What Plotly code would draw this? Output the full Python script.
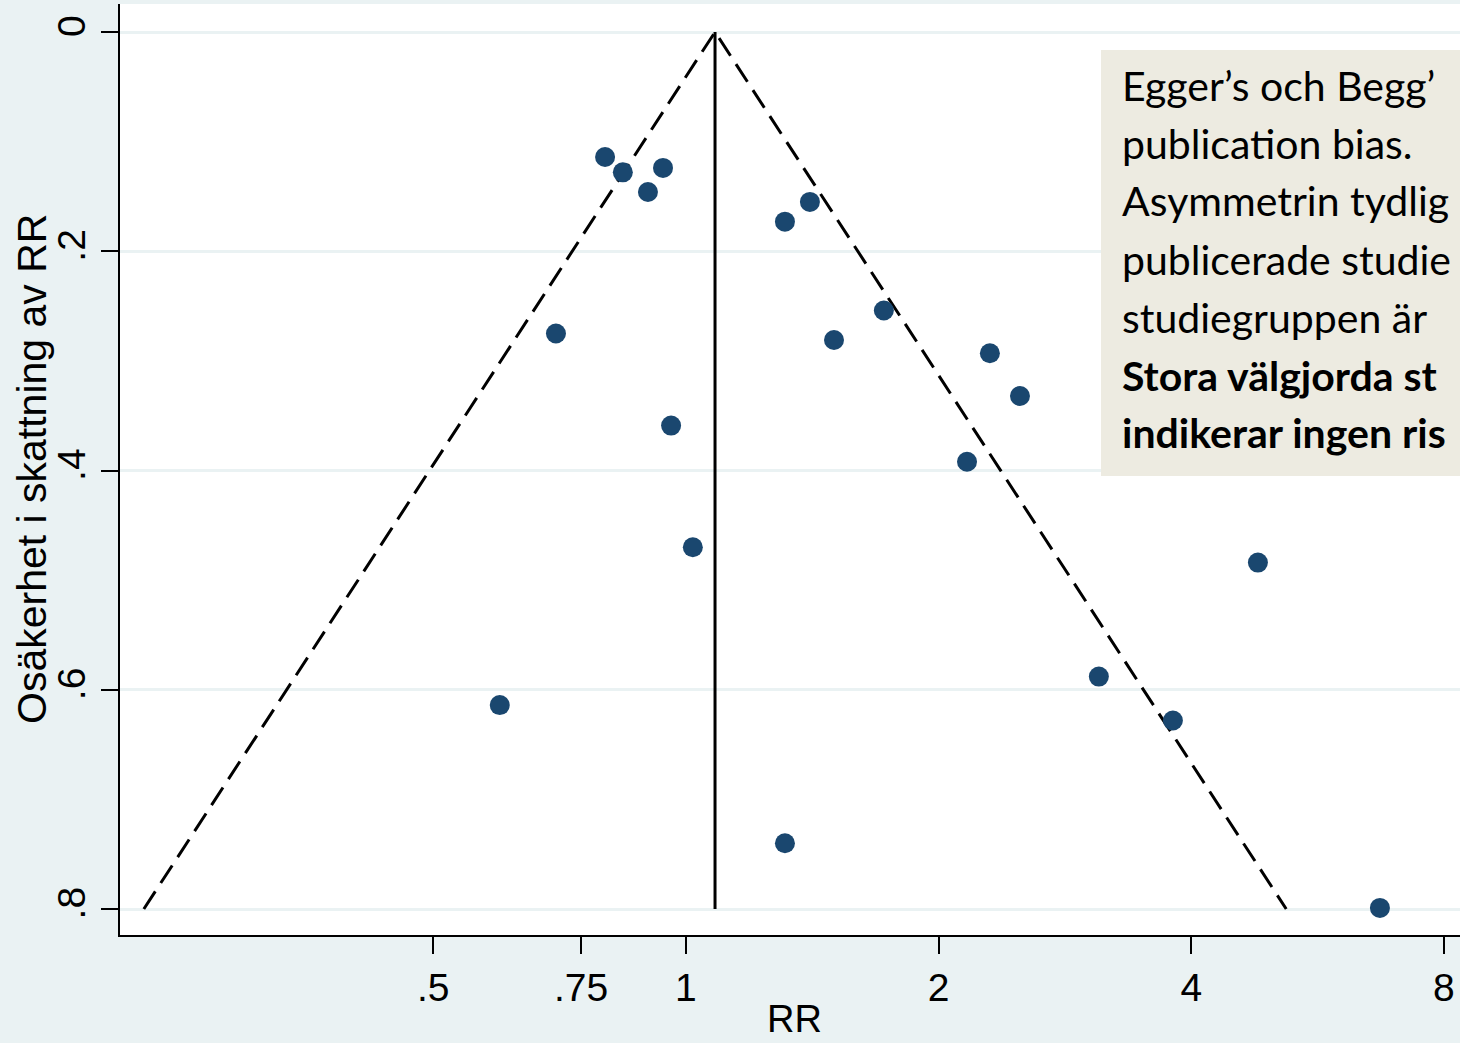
import plotly.graph_objects as go

# Study estimates (relative risk) and their uncertainty (standard error of log RR)
study_rr = [0.801, 0.841, 0.939, 0.901, 1.405, 1.312, 1.721, 0.700, 1.501, 2.302,
            2.500, 0.960, 2.162, 1.019, 4.802, 3.104, 0.600, 3.803, 1.312, 6.711]
study_se = [0.114, 0.128, 0.124, 0.146, 0.155, 0.173, 0.254, 0.275, 0.281, 0.293,
            0.332, 0.359, 0.392, 0.470, 0.484, 0.588, 0.614, 0.628, 0.740, 0.799]

# Pooled estimate line and pseudo 95% confidence limits (funnel)
pooled_rr = [1.083, 1.083]
pooled_se = [0.0, 0.8]
funnel_rr = [0.226, 1.083, 5.19]
funnel_se = [0.8, 0.0, 0.8]

x_tickvals = [0.5, 0.75, 1, 2, 4, 8]
x_ticktext = [".5", ".75", "1", "2", "4", "8"]
y_tickvals = [0, 0.2, 0.4, 0.6, 0.8]
y_ticktext = ["0", ".2", ".4", ".6", ".8"]

box_lines = [
    ("Egger’s och Begg’", False),
    ("publication bias.", False),
    ("Asymmetrin tydlig", False),
    ("publicerade studie", False),
    ("studiegruppen är", False),
    ("Stora välgjorda st", True),
    ("indikerar ingen ris", True),
]

W, H = 1460, 1043
L, T, B, R = 120, 4, 108, 0
PW, PH = W - L - R, H - T - B

def px(xp):
    return (xp - L) / PW

def py(yp):
    return (H - B - yp) / PH

fig = go.Figure()

fig.add_trace(go.Scatter(x=funnel_rr, y=funnel_se, mode="lines",
                         line=dict(color="black", width=3, dash="21px,10px"),
                         hoverinfo="skip", showlegend=False))
fig.add_trace(go.Scatter(x=pooled_rr, y=pooled_se, mode="lines",
                         line=dict(color="black", width=3),
                         hoverinfo="skip", showlegend=False))
fig.add_trace(go.Scatter(x=study_rr, y=study_se, mode="markers",
                         marker=dict(color="#1A476F", size=20, line=dict(width=0)),
                         showlegend=False))

axis_font = dict(family="Liberation Sans, Arial, sans-serif", size=39, color="black")

fig.update_xaxes(type="log", range=[-0.6743, 0.9222],
                 tickvals=x_tickvals, ticktext=x_ticktext,
                 showgrid=False, zeroline=False,
                 showline=True, linecolor="black", linewidth=2,
                 ticks="outside", ticklen=17, tickwidth=2, tickcolor="black",
                 tickfont=axis_font)
fig.update_yaxes(range=[0.8237, -0.02554],
                 tickvals=y_tickvals, ticktext=y_ticktext, tickangle=-90,
                 showgrid=True, gridcolor="#EAF2F3", gridwidth=3, zeroline=False,
                 showline=True, linecolor="black", linewidth=2,
                 ticks="outside", ticklen=17, tickwidth=2, tickcolor="black",
                 tickfont=axis_font)

shapes = [dict(type="rect", xref="paper", yref="paper",
               x0=px(1101), x1=1.05, y0=py(476), y1=py(50),
               fillcolor="#EDEBE1", line=dict(width=0), layer="above")]

annotations = [
    dict(text="Osäkerhet i skattning av RR", xref="paper", yref="paper",
         x=px(32), y=py(469), xanchor="center", yanchor="middle", textangle=-90,
         showarrow=False, font=dict(family="Liberation Sans, Arial, sans-serif",
                                    size=41, color="black")),
    dict(text="RR", xref="paper", yref="paper",
         x=px(795), y=py(1019), xanchor="center", yanchor="middle", borderpad=0,
         showarrow=False, font=dict(family="Liberation Sans, Arial, sans-serif",
                                    size=38, color="black")),
]
for i, (txt, bold) in enumerate(box_lines):
    annotations.append(dict(
        text=f"<b>{txt}</b>" if bold else txt,
        xref="paper", yref="paper", x=px(1120), y=py(85 + 58 * i),
        xanchor="left", yanchor="middle", showarrow=False, align="left",
        font=dict(family="Lato, sans-serif", size=41, color="black")))

fig.update_layout(width=W, height=H,
                  margin=dict(l=L, r=R, t=T, b=B, autoexpand=False),
                  paper_bgcolor="#EAF2F3", plot_bgcolor="white",
                  shapes=shapes, annotations=annotations,
                  showlegend=False)

fig.write_html("out.html", config={"displayModeBar": False},
               post_script="document.body.style.margin='0';document.body.style.overflow='hidden';")
